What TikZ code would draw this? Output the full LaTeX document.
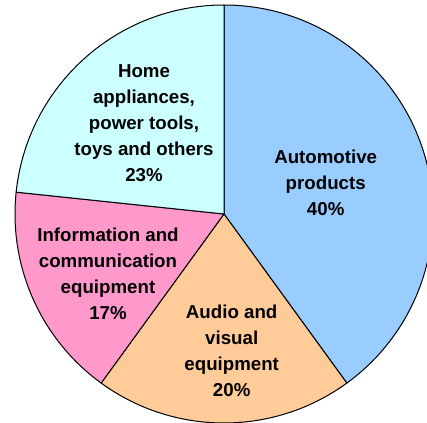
\documentclass[tikz,border=0pt]{standalone}
\usepackage{fontspec}
\setmainfont{Liberation Sans}
\definecolor{autoblue}{HTML}{99CCFF}
\definecolor{homecyan}{HTML}{CCFFFF}
\definecolor{infopink}{HTML}{FF99CC}
\definecolor{audiopeach}{HTML}{FFCC99}
\begin{document}
\begin{tikzpicture}[x=1bp,y=1bp,
  slice/.style={draw=black,line width=1bp,line join=round},
  lbl/.style={align=center,font=\fontsize{18.7bp}{26bp}\selectfont\bfseries,inner sep=0pt}]
\useasboundingbox (0,0) rectangle (427,423);
\clip (0,0) rectangle (427,423);
\coordinate (c) at (224,209);
\def\R{209}
\filldraw[slice,fill=autoblue] (c) -- ++(90:\R) arc[start angle=90,end angle=-54,radius=\R] -- cycle;
\filldraw[slice,fill=audiopeach] (c) -- ++(-54:\R) arc[start angle=-54,end angle=-126,radius=\R] -- cycle;
\filldraw[slice,fill=infopink] (c) -- ++(-126:\R) arc[start angle=-126,end angle=-186,radius=\R] -- cycle;
\filldraw[slice,fill=homecyan] (c) -- ++(174:\R) arc[start angle=174,end angle=90,radius=\R] -- cycle;
\node[lbl] (home) at (144,300.3) {Home\\appliances,\\power tools,\\toys and others\\23\%};
\node[lbl] (auto) at (325.7,240.5) {Automotive\\products\\40\%};
\node[lbl] (info) at (108,149.5) {Information and\\communication\\equipment\\17\%};
\node[lbl] (audio) at (231.7,72.5) {Audio and\\visual\\equipment\\20\%};
\end{tikzpicture}
\end{document}
